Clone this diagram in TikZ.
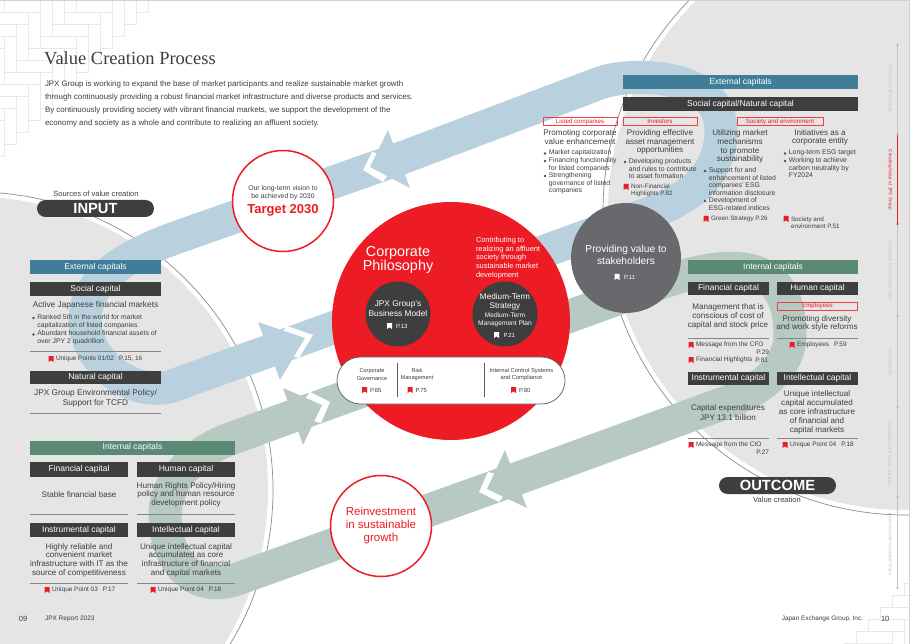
\documentclass[tikz,border=0pt]{standalone}
\usepackage{fontspec}
\setmainfont{Liberation Sans}
\newfontfamily\titlefont{Liberation Serif}
\usetikzlibrary{shapes.misc}
\definecolor{pagegrey}{HTML}{E5E5E5}
\definecolor{ringgrey}{HTML}{8C8C8C}
\definecolor{brick}{HTML}{E9E9E9}
\definecolor{bandblue}{HTML}{B9D1DE}
\definecolor{bandgreen}{HTML}{B6C9C2}
\definecolor{extblue}{HTML}{3F7D99}
\definecolor{intgreen}{HTML}{5A8A74}
\definecolor{darkbar}{HTML}{3E3E3E}
\definecolor{jpxred}{HTML}{ED1C24}
\definecolor{stonegrey}{HTML}{69696D}
\definecolor{navgrey}{HTML}{C4C4C4}
\newcounter{tn}
\newcommand{\fs}[2]{\fontsize{#1}{#2}\selectfont}
% bar: name x1 y1 x2 y2 colour size text
\newcommand{\barx}[8]{\node[barbox,fill=#6,minimum width={(#4-#2)*1pt},minimum height={(#5-#3)*1pt},font=\fs{#7}{#7}] (#1) at ({(#2+#4)/2},{(#3+#5)/2}) {\raisebox{-.5pt}{#8}};}
% tag: name x1 y1 x2 y2 text
\newcommand{\tagbox}[6]{\node[tagb,minimum width={(#4-#2)*1pt},minimum height={(#5-#3)*1pt}] (#1) at ({(#2+#4)/2},{(#3+#5)/2}) {#6};}
% centred text: [colour] x y size leading text
\newcommand{\ctext}[6][darkbar]{\stepcounter{tn}\node[txt,text=#1,font=\fs{#4}{#5}] (t\arabic{tn}) at (#2,#3) {#6};}
% left text
\newcommand{\ltext}[6][darkbar]{\stepcounter{tn}\node[txt,text=#1,anchor=west,align=left,font=\fs{#4}{#5}] (t\arabic{tn}) at (#2,#3) {#6};}
% bullet: x y text
\newcommand{\bul}[3]{\fill[darkbar!90] (#1,#2) circle (1.3);\stepcounter{tn}\node[txt,anchor=north west,align=left,font=\fs{6.85}{7.65}] (t\arabic{tn}) at (#1+3.9,#2-3.6) {#3};}
% bookmark: x y colour
\newcommand{\bkm}[3]{\fill[#3] (#1-2.5,#2-3) -- (#1+2.5,#2-3) -- (#1+2.5,#2+3) -- (#1,#2+1.4) -- (#1-2.5,#2+3) -- cycle;}
% rule
\newcommand{\hr}[3]{\draw[ruleline] (#1,#3) -- (#2,#3);}
% arrow head: tip b1 b2 V up low base colour (x,y) pairs
\newcommand{\head}[8]{\fill[white] #5 -- #4 -- #6 -- #7 -- cycle;\fill[#8] #1 -- #2 -- #3 -- cycle;}
\tikzset{
 x=1pt,y=-1pt,
 barbox/.style={inner sep=0,outer sep=0,text=white},
 tagb/.style={draw=jpxred!85,line width=.7pt,inner sep=0,outer sep=0,text=jpxred,font=\fs{6.2}{6.5}},
 txt/.style={inner sep=0,outer sep=0,text=darkbar,align=center},
 ruleline/.style={line width=1pt,color=darkbar!62},
 band/.style={line width=33pt,line cap=butt},
 ringline/.style={line width=.7pt,color=ringgrey},
 navtext/.style={inner sep=0,rotate=-90,text=navgrey,font=\fs{4.7}{5}},
 brickline/.style={draw=brick,line width=.5pt},
 pillbar/.style={rounded rectangle,fill=darkbar,text=white,inner sep=0,minimum width=117pt,minimum height=17pt,font=\bfseries\fs{14.7}{15}},
}
\begin{document}
\begin{tikzpicture}
\useasboundingbox (0,0) rectangle (910,644);
\fill[white] (0,0) rectangle (910,644);
% brick patterns
\begin{scope}
\clip (0,0) rectangle (165,165);
\foreach \n in {-1,0,1} \foreach \k in {-12,...,12} {
  \pgfmathsetmacro{\xa}{12*\k+36*\n+16}
  \pgfmathsetmacro{\ya}{-12*\k+36*\n}
  \draw[brickline] (\xa,\ya-12) rectangle (\xa+36,\ya);
  \draw[brickline] (\xa+36,\ya-12) rectangle (\xa+48,\ya+24);
}
\end{scope}
\begin{scope}
\clip (835,570) rectangle (909,644);
\foreach \n in {0,1,2} \foreach \k in {0,...,20} {
  \pgfmathsetmacro{\xa}{12*\k+36*\n+760}
  \pgfmathsetmacro{\ya}{-12*\k+36*\n+739}
  \draw[brickline] (\xa,\ya-12) rectangle (\xa+36,\ya);
  \draw[brickline] (\xa+36,\ya-12) rectangle (\xa+48,\ya+24);
}
\end{scope}
% grey discs
\begin{scope}
\clip (0,0) rectangle (909,644);
\fill[pagegrey] (-25,490) circle (293);
\fill[pagegrey] (906,212) circle (298);
\draw[ringline] (-25,490) circle (298);
\draw[ringline] (906,212) circle (303);
\end{scope}
\draw[color=black!18,line width=.8pt] (0,.4) -- (909.5,.4) -- (909.5,644);
% bands
\draw[band,bandblue] (269,351) -- (175,385) .. controls (135,400) and (85,362) .. (85,320)
   .. controls (85,285) and (115,260) .. (175,238) -- (399,159);
\draw[band,bandblue] (269,351) -- (650,213) .. controls (690,198) and (721,175) .. (721,130)
   .. controls (721,72) and (630,72) .. (600,83) -- (399,159);
\draw[band,bandgreen] (293,416) -- (230,439) .. controls (195,452) and (165,480) .. (165,515)
   .. controls (165,555) and (190,597) .. (240,578) -- (516,479);
\draw[band,bandgreen] (293,416) -- (620,298) .. controls (670,280) and (790,225) .. (790,335)
   .. controls (790,365) and (765,388) .. (730,401) -- (516,479);
\head{(370,167)}{(388,130)}{(410,188)}{(363,170)}{(372,152)}{(383,182)}{(399,159)}{bandblue}
\head{(305,338)}{(258,322)}{(280,380)}{(313,335)}{(287,326)}{(299,358)}{(269,351)}{bandblue}
\head{(322,405)}{(283,388)}{(303,445)}{(330,402)}{(310,392)}{(321,423)}{(293,416)}{bandgreen}
\head{(487,489)}{(505,450)}{(527,508)}{(479,492)}{(488,472)}{(499,502)}{(516,479)}{bandgreen}
% title
\node[inner sep=0,anchor=base west,text=darkbar,font=\titlefont\fs{18.5}{20}] (title) at (44,65) {Value Creation Process};
\ltext{45}{84.5}{7.9}{8}{JPX Group is working to expand the base of market participants and realize sustainable market growth}
\ltext{45}{97.5}{7.9}{8}{through continuously providing a robust financial market infrastructure and diverse products and services.}
\ltext{45}{110.5}{7.9}{8}{By continuously providing society with vibrant financial markets, we support the development of the}
\ltext{45}{123.5}{7.9}{8}{economy and society as a whole and contribute to realizing an affluent society.}
% centre discs
\node[circle,fill=jpxred,minimum size=238pt,inner sep=0] (philo) at (451,321) {};
\node[circle,fill=white,draw=jpxred,line width=1.5pt,minimum size=101pt,inner sep=0] (target) at (283,201) {};
\node[circle,fill=white,draw=jpxred,line width=1.5pt,minimum size=101pt,inner sep=0] (reinv) at (381,526) {};
\node[circle,fill=stonegrey,minimum size=110pt,inner sep=0] (value) at (626,258) {};
\node[circle,fill=darkbar,minimum size=65pt,inner sep=0] (bizmodel) at (398,314) {};
\node[circle,fill=darkbar,minimum size=65pt,inner sep=0] (midterm) at (505,314) {};
\node[rounded rectangle,draw=darkbar!85,fill=white,line width=.7pt,minimum width=228pt,minimum height=47pt,inner sep=0] (gov) at (451,380.5) {};
\draw[darkbar!85,line width=.6pt] (397,363) -- (397,397);
\draw[darkbar!85,line width=.6pt] (484,363) -- (484,397);
\ctext{283}{192.5}{6.85}{8.5}{Our long-term vision to\\be achieved by 2030}
\ctext[jpxred]{283}{210}{13}{14}{\bfseries Target 2030}
\ctext[jpxred]{381}{526}{11.5}{13}{Reinvestment\\in sustainable\\growth}
\ctext[white]{398}{260}{14.4}{13.2}{Corporate\\Philosophy}
\ltext[white]{476}{258}{7.4}{8.8}{Contributing to\\realizing an affluent\\society through\\sustainable market\\development}
\ctext[white]{398}{308.5}{8.3}{9.5}{JPX Group's\\Business Model}
\bkm{389.5}{326}{white}
\ltext[white]{396}{326}{6}{6}{P.13}
\ctext[white]{505}{302}{8.2}{9.3}{Medium-Term\\Strategy}
\ctext[white]{505}{319.7}{6.6}{8.5}{Medium-Term\\Management Plan}
\bkm{496.5}{335}{white}
\ltext[white]{503.5}{335}{6}{6}{P.21}
\ctext{372}{374.6}{5.6}{7.2}{Corporate\\Governance}
\bkm{364.7}{390}{jpxred}\ltext{370}{390}{6}{6}{P.65}
\ctext{417}{374.6}{5.6}{7.2}{Risk\\Management}
\bkm{410}{390}{jpxred}\ltext{415.5}{390}{6}{6}{P.75}
\ctext{521.5}{374.6}{5.8}{7.2}{Internal Control Systems\\and Compliance}
\bkm{513.5}{390}{jpxred}\ltext{519}{390}{6}{6}{P.80}
\ctext[white]{626}{255}{10.2}{12}{Providing value to\\stakeholders}
\bkm{617}{277}{white}
\ltext[white]{624}{277}{6}{6}{P.11}
% INPUT
\ctext{96}{194}{7.55}{8}{Sources of value creation}
\node[pillbar] (input) at (95.5,208.5) {INPUT};
\barx{l-ext}{30}{260}{161}{274}{extblue}{8.5}{External capitals}
\barx{l-soc}{30}{282}{161}{296}{darkbar}{8.5}{Social capital}
\ctext{95.5}{305}{8.3}{8.5}{Active Japanese financial markets}
\bul{33.5}{318}{Ranked 5th in the world for market\\capitalization of listed companies}
\bul{33.5}{334.5}{Abundant household financial assets of\\over JPY 2 quadrillion}
\hr{30}{161}{351.5}
\bkm{51}{359}{jpxred}
\ltext{56}{359}{6.45}{6.5}{Unique Points 01/02\hspace{5pt}P.15, 16}
\barx{l-nat}{30}{370.5}{161}{384}{darkbar}{8.5}{Natural capital}
\ctext{95.5}{398.5}{8.3}{10}{JPX Group Environmental Policy/\\Support for TCFD}
\hr{30}{161}{413.5}
\barx{l-int}{30}{441}{235}{454.5}{intgreen}{8.5}{Internal capitals}
\barx{l-fin}{30}{462}{128}{476.5}{darkbar}{8.5}{Financial capital}
\barx{l-hum}{137}{462}{235}{476.5}{darkbar}{8.5}{Human capital}
\ctext{79}{494.5}{8.1}{8.5}{Stable financial base}
\ctext{186}{494.5}{8.1}{8.5}{Human Rights Policy/Hiring\\policy and human resource\\development policy}
\hr{30}{128}{514.5}\hr{137}{235}{514.5}
\barx{l-ins}{30}{523}{128}{537}{darkbar}{8.5}{Instrumental capital}
\barx{l-tel}{137}{523}{235}{537}{darkbar}{8.5}{Intellectual capital}
\ctext{79}{560}{8.1}{8.7}{Highly reliable and\\convenient market\\infrastructure with IT as the\\source of competitiveness}
\ctext{186}{560}{8.1}{8.7}{Unique intellectual capital\\accumulated as core\\infrastructure of financial\\and capital markets}
\hr{30}{128}{583}\hr{137}{235}{583}
\bkm{47}{590}{jpxred}\ltext{52}{590}{6.45}{6.5}{Unique Point 03\hspace{5pt}P.17}
\bkm{153}{590}{jpxred}\ltext{158}{590}{6.45}{6.5}{Unique Point 04\hspace{5pt}P.18}
% top right
\barx{r-ext}{623}{75}{858}{89}{extblue}{8.5}{External capitals}
\barx{r-soc}{623}{97}{858}{111}{darkbar}{8.5}{Social capital/Natural capital}
\tagbox{tag-lc}{543}{117.5}{617}{125.5}{Listed companies}
\tagbox{tag-in}{623}{117.5}{697}{125.5}{Investors}
\tagbox{tag-se}{737}{117.5}{823}{125.5}{Society and environment}
\ctext{580}{137.5}{8.1}{8.8}{Promoting corporate\\value enhancement}
\ctext{660}{142}{8.1}{8.9}{Providing effective\\asset management\\opportunities}
\ctext{740}{146.5}{8.1}{8.9}{Utilizing market\\mechanisms\\to promote\\sustainability}
\ctext{820}{137.5}{8.1}{8.8}{Initiatives as a\\corporate entity}
\bul{545}{153.5}{Market capitalization}
\bul{545}{161}{Financing functionality\\for listed companies}
\bul{545}{176}{Strengthening\\governance of listed\\companies}
\bul{625}{162}{Developing products\\and rules to contribute\\to asset formation}
\bkm{626}{187}{jpxred}
\ltext{631}{190.5}{6.3}{7.4}{Non-Financial\\Highlights P.82}
\bul{705}{171}{Support for and\\enhancement of listed\\companies' ESG\\information disclosure}
\bul{705}{201}{Development of\\ESG-related indices}
\bkm{706}{219}{jpxred}\ltext{711}{219}{6.3}{6.5}{Green Strategy P.26}
\bul{785}{153.5}{Long-term ESG target}
\bul{785}{161}{Working to achieve\\carbon neutrality by\\FY2024}
\bkm{786}{219}{jpxred}\ltext{791}{222.5}{6.3}{7.4}{Society and\\environment P.51}
% right lower
\barx{r-int}{688}{260}{858}{274}{intgreen}{8.5}{Internal capitals}
\barx{r-fin}{688}{282}{769}{295}{darkbar}{8.5}{Financial capital}
\barx{r-hum}{777}{282}{858}{295}{darkbar}{8.5}{Human capital}
\tagbox{tag-em}{777.5}{302}{857.5}{310.5}{Employees}
\ctext{728}{316.5}{8.1}{8.7}{Management that is\\conscious of cost of\\capital and stock price}
\ctext{817}{323.5}{8.1}{8.5}{Promoting diversity\\and work style reforms}
\hr{688}{769}{338.5}\hr{777}{858}{338.5}
\bkm{691}{345}{jpxred}\ltext{696}{345}{6.5}{6.5}{Message from the CFO}
\stepcounter{tn}\node[txt,anchor=east,font=\fs{6.5}{6.5}] (t\arabic{tn}) at (769,352.5) {P.29};
\bkm{691}{360}{jpxred}\ltext{696}{360}{6.5}{6.5}{Financial Highlights}
\stepcounter{tn}\node[txt,anchor=east,font=\fs{6.5}{6.5}] (t\arabic{tn}) at (768,360) {P.81};
\bkm{792}{345}{jpxred}\ltext{797}{345}{6.5}{6.5}{Employees\hspace{5pt}P.59}
\barx{r-ins}{688}{372}{769}{385}{darkbar}{8.5}{Instrumental capital}
\barx{r-tel}{777}{372}{858}{385}{darkbar}{8.5}{Intellectual capital}
\ctext{728}{412.7}{8.1}{9.5}{Capital expenditures\\JPY 13.1 billion}
\ctext{817}{412.5}{8.1}{8.8}{Unique intellectual\\capital accumulated\\as core infrastructure\\of financial and\\capital markets}
\hr{688}{769}{438}\hr{777}{858}{438}
\bkm{691}{445}{jpxred}\ltext{696}{445}{6.5}{6.5}{Message from the CIO}
\stepcounter{tn}\node[txt,anchor=east,font=\fs{6.5}{6.5}] (t\arabic{tn}) at (769,452.5) {P.27};
\bkm{785}{445}{jpxred}\ltext{790}{445}{6.5}{6.5}{Unique Point 04\hspace{5pt}P.18}
\node[pillbar] (outcome) at (777.5,485.5) {OUTCOME};
\ctext{777}{500}{7.55}{8}{Value creation}
% footer
\ltext{19}{619}{7.5}{8}{09}
\ltext{45}{619}{6.5}{6.5}{JPX Report 2023}
\stepcounter{tn}\node[txt,anchor=east,font=\fs{6.4}{6.5}] (t\arabic{tn}) at (863,619) {Japan Exchange Group, Inc.};
\ltext{881}{619}{7.5}{8}{10}
% side navigation
\coordinate (n0) at (897.5,45);
\coordinate (n1) at (897.5,134);
\coordinate (n2) at (897.5,224);
\coordinate (n3) at (897.5,316);
\coordinate (n4) at (897.5,407);
\coordinate (n5) at (897.5,497);
\coordinate (n6) at (897.5,588);
\draw[navgrey,line width=.6pt] (n0) -- (n6);
\draw[jpxred,line width=.7pt] (n1) -- (n2);
\foreach \p in {n0,n1,n3,n4,n5,n6} \fill[navgrey!90!black] (\p) circle (1.2);
\fill[jpxred] (n2) circle (1.2);
\node[navtext] (nav1) at (890,89) {Mission for JPX Group};
\node[navtext,text=jpxred] (nav2) at (890,180) {Creating Value at JPX Group};
\node[navtext] (nav3) at (890,271) {Strategies for Creating Value};
\node[navtext] (nav4) at (890,362) {Sustainability};
\node[navtext] (nav5) at (890,454) {Foundations for Value Creation};
\node[navtext] (nav6) at (890,544) {Financial and Corporate Data};
\end{tikzpicture}
\end{document}
